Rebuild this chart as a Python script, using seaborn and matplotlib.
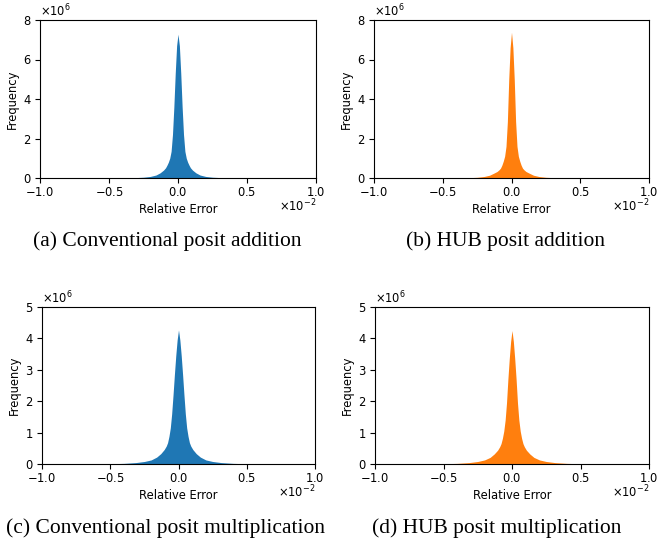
import numpy as np
import pandas as pd
import matplotlib
matplotlib.use("Agg")
import matplotlib.pyplot as plt
import seaborn as sns

# Bin edges of the relative error (in units of 1e-2)
bin_edges_e2 = [-1.0, -0.7, -0.55, -0.45, -0.35, -0.275, -0.225, -0.175, -0.145, -0.115,
                -0.095, -0.085, -0.075, -0.065, -0.055, -0.045, -0.035, -0.025, -0.015, -0.005,
                0.005, 0.015, 0.025, 0.035, 0.045, 0.055, 0.065, 0.075, 0.085, 0.095,
                0.115, 0.145, 0.175, 0.225, 0.275, 0.35, 0.45, 0.55, 0.7, 1.0]

# Frequencies per bin (in millions)
conv_add = [0.0002, 0.0008, 0.002, 0.006, 0.018, 0.04, 0.08, 0.15, 0.26, 0.40,
            0.52, 0.65, 0.8, 1.0, 1.35, 2.2, 3.6, 5.3, 6.7, 7.28,
            6.7, 5.3, 3.6, 2.2, 1.35, 1.0, 0.8, 0.65, 0.52, 0.40,
            0.26, 0.15, 0.08, 0.04, 0.018, 0.006, 0.002, 0.0008, 0.0002]
hub_add = [0.0002, 0.0007, 0.002, 0.005, 0.015, 0.035, 0.075, 0.14, 0.24, 0.33,
           0.42, 0.5, 0.65, 0.85, 1.1, 1.6, 2.85, 5.0, 6.6, 7.38,
           6.6, 5.0, 2.85, 1.6, 1.1, 0.85, 0.65, 0.5, 0.42, 0.33,
           0.24, 0.14, 0.075, 0.035, 0.015, 0.005, 0.002, 0.0007, 0.0002]
conv_mul = [0.0008, 0.003, 0.008, 0.02, 0.045, 0.08, 0.13, 0.22, 0.33, 0.46,
            0.57, 0.68, 0.88, 1.15, 1.6, 2.2, 2.85, 3.45, 3.95, 4.27,
            3.95, 3.45, 2.85, 2.2, 1.6, 1.15, 0.88, 0.68, 0.57, 0.46,
            0.33, 0.22, 0.13, 0.08, 0.045, 0.02, 0.008, 0.003, 0.0008]
hub_mul = [0.0008, 0.003, 0.008, 0.02, 0.045, 0.08, 0.13, 0.21, 0.32, 0.44,
           0.55, 0.65, 0.82, 1.05, 1.4, 1.95, 2.7, 3.35, 3.9, 4.25,
           3.9, 3.35, 2.7, 1.95, 1.4, 1.05, 0.82, 0.65, 0.55, 0.44,
           0.32, 0.21, 0.13, 0.08, 0.045, 0.02, 0.008, 0.003, 0.0008]

captions = ["(a) Conventional posit addition", "(b) HUB posit addition",
            "(c) Conventional posit multiplication", "(d) HUB posit multiplication"]
y_max = [8, 8, 5, 5]

plt.rcParams["axes.formatter.use_mathtext"] = True
plt.rcParams["font.size"] = 8.3

W, H = 659, 548
fig = plt.figure(figsize=(W / 100, H / 100), dpi=100)

boxes = [(40, 20, 316, 178), (374, 20, 649, 178), (42, 307, 315, 464), (375, 307, 649, 464)]
series = [conv_add, hub_add, conv_mul, hub_mul]
colors = ["#1f77b4", "#ff7f0e", "#1f77b4", "#ff7f0e"]
cap_pos = [(167, 241), (505, 241), (166, 528), (497, 528)]

edges = [e * 1e-2 for e in bin_edges_e2]
centers = [(a + b) / 2 for a, b in zip(edges[:-1], edges[1:])]

for (x0, y0, x1, y1), vals, col, cap, ym, (cx, cy) in zip(boxes, series, colors, captions, y_max, cap_pos):
    ax = fig.add_axes([x0 / W, 1 - y1 / H, (x1 - x0) / W, (y1 - y0) / H])
    df = pd.DataFrame({"err": centers, "freq": np.array(vals) * 1e6})
    sns.histplot(data=df, x="err", weights="freq", bins=edges, element="poly",
                 fill=True, color=col, alpha=1, linewidth=0, ax=ax)
    ax.set_xlim(-0.01, 0.01)
    ax.set_ylim(0, ym * 1e6)
    ax.set_xticks([-0.01, -0.005, 0, 0.005, 0.01])
    ax.ticklabel_format(axis="x", style="sci", scilimits=(0, 0))
    ax.xaxis.OFFSETTEXTPAD = -1.5
    ax.set_xlabel("Relative Error", fontsize=8.3, labelpad=2.5)
    ax.set_ylabel("Frequency", fontsize=8.3, labelpad=3)
    ax.tick_params(labelsize=8.3, pad=2.5)
    fig.text(cx / W, 1 - cy / H, cap, ha="center", va="center",
             family="Liberation Serif", fontsize=15.5)

fig.savefig("out.png", dpi=100)
